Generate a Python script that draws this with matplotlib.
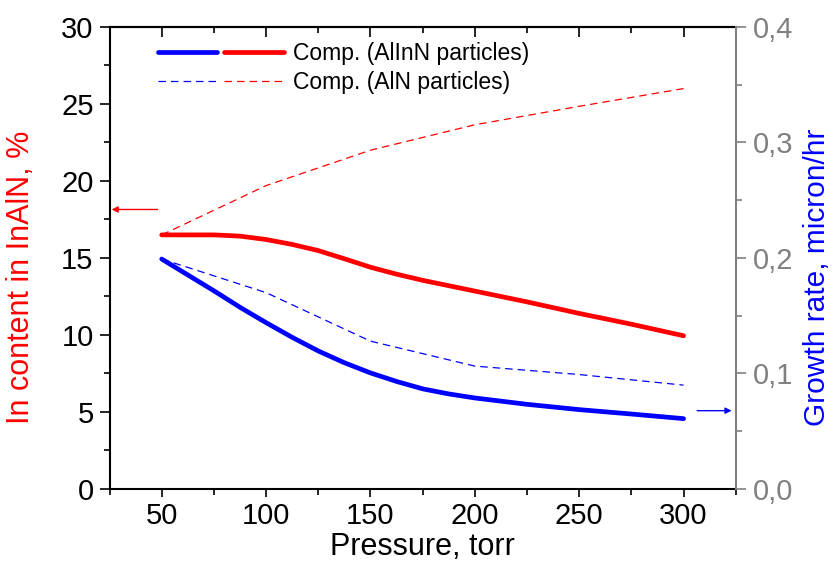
import numpy as np
import matplotlib
matplotlib.use("Agg")
import matplotlib.pyplot as plt
from matplotlib.legend_handler import HandlerTuple
from matplotlib.ticker import MultipleLocator, FuncFormatter

plt.rcParams['font.family'] = ['Liberation Sans', 'DejaVu Sans']

# ---- data ----
# solid curves: AlInN particles
p_fine = [50, 62.5, 75, 87.5, 100, 112.5, 125, 137.5, 150, 162.5, 175, 187.5,
          200, 225, 250, 275, 300]
in_alinn = [16.5, 16.5, 16.5, 16.42, 16.2, 15.88, 15.48, 14.95, 14.4, 13.95, 13.55, 13.2,
            12.85, 12.15, 11.4, 10.7, 9.95]
gr_alinn = [0.1991, 0.1853, 0.1716, 0.1573, 0.144, 0.1313, 0.1195, 0.1093, 0.1005, 0.0931,
            0.0867, 0.0823, 0.0788, 0.0733, 0.0687, 0.0649, 0.0609]

# dashed curves: AlN particles
p_coarse = [50, 100, 150, 200, 250, 300]
in_aln = [16.5, 19.7, 22.0, 23.65, 24.85, 26.0]
gr_aln = [0.1991, 0.170, 0.128, 0.1064, 0.0991, 0.0899]

RED = "#ff0000"
BLUE = "#0000ff"
GRAY = "#808080"

fig = plt.figure(figsize=(8.38, 5.67), dpi=100)
ax = fig.add_axes([0.1307, 0.1376, 0.7473, 0.8148])
ax2 = ax.twinx()

# left axis: In content
l1, = ax.plot(p_fine, in_alinn, color=RED, lw=3.4, solid_capstyle="round")
l2, = ax.plot(p_coarse, in_aln, color=RED, lw=0.9, ls=(0, (6, 4)))

# right axis: growth rate
b1, = ax2.plot(p_fine, gr_alinn, color=BLUE, lw=3.4, solid_capstyle="round")
b2, = ax2.plot(p_coarse, gr_aln, color=BLUE, lw=0.9, ls=(0, (6, 4)))

ax.set_xlim(25, 325)
ax.set_ylim(0, 30)
ax2.set_ylim(0, 0.4)

ax.xaxis.set_major_locator(MultipleLocator(50))
ax.xaxis.set_minor_locator(MultipleLocator(25))
ax.yaxis.set_major_locator(MultipleLocator(5))
ax.yaxis.set_minor_locator(MultipleLocator(2.5))
ax2.yaxis.set_major_locator(MultipleLocator(0.1))
ax2.yaxis.set_minor_locator(MultipleLocator(0.05))
ax2.yaxis.set_major_formatter(FuncFormatter(lambda v, _: f"{v:.1f}".replace(".", ",")))

ax.tick_params(axis="both", which="major", direction="out", width=1.2,
               labelsize=21, colors="black")
ax.tick_params(axis="y", which="major", length=7.5, pad=4)
ax.tick_params(axis="y", which="minor", direction="out", length=4, width=1.2)
ax.tick_params(axis="x", which="major", length=5.5, pad=4)
ax.tick_params(axis="x", which="minor", direction="out", length=4, width=1.2)
ax.tick_params(axis="y", which="both", right=False)
ax2.tick_params(axis="y", which="major", direction="out", length=7.5, width=1.2,
                labelsize=21, colors=GRAY, pad=5)
ax2.tick_params(axis="y", which="minor", direction="out", length=4, width=1.2, colors=GRAY)

# top axis with inward ticks, no labels
top = ax.secondary_xaxis("top")
top.xaxis.set_major_locator(MultipleLocator(50))
top.xaxis.set_minor_locator(MultipleLocator(25))
top.tick_params(which="major", direction="in", length=7, width=1.2, labeltop=False)
top.tick_params(which="minor", direction="in", length=4, width=1.2)
top.spines["top"].set_linewidth(1.5)

for s in ["left", "bottom", "top"]:
    ax.spines[s].set_linewidth(1.5)
ax.spines["right"].set_visible(False)
for s in ["left", "bottom", "top"]:
    ax2.spines[s].set_visible(False)
ax2.spines["right"].set_color(GRAY)
ax2.spines["right"].set_linewidth(1.5)

ax.set_xlabel("Pressure, torr", fontsize=22, labelpad=1)
ax.set_ylabel("In content in InAlN, %", fontsize=22, color=RED)
ax2.set_ylabel("Growth rate, micron/hr", fontsize=21.5, color=BLUE)
ax.yaxis.set_label_coords(-0.117, 0.458)
ax2.yaxis.set_label_coords(1.107, 0.458)

# direction arrows
ax.annotate("", xy=(26, 18.15), xytext=(48, 18.15),
            arrowprops=dict(arrowstyle="-|>", color=RED, lw=1.0, mutation_scale=9,
                            shrinkA=0, shrinkB=0))
ax2.annotate("", xy=(323, 0.0678), xytext=(306.5, 0.0678),
             arrowprops=dict(arrowstyle="-|>", color=BLUE, lw=1.0, mutation_scale=9,
                             shrinkA=0, shrinkB=0))

# legend: blue + red sample side by side on each row
leg = ax.legend([(b1, l1), (b2, l2)],
                ["Comp. (AlInN particles)", "Comp. (AlN particles)"],
                handler_map={tuple: HandlerTuple(ndivide=None, pad=0.3)},
                loc="upper left", bbox_to_anchor=(0.0767, 0.967), frameon=False,
                fontsize=16.5, handlelength=5.5, handletextpad=0.4,
                labelspacing=0.25, borderaxespad=0, borderpad=0)

fig.savefig("out.png", dpi=100)
